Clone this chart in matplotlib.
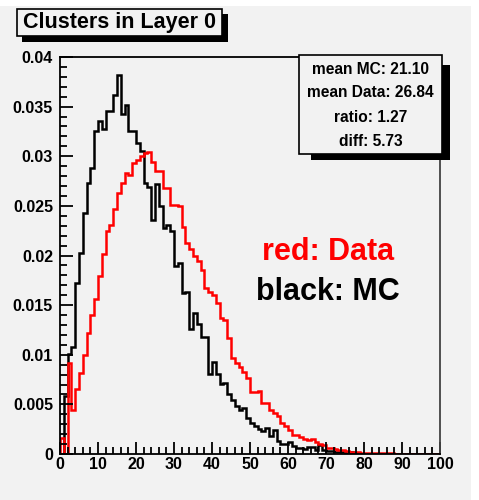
import numpy as np
import matplotlib
matplotlib.use("Agg")
import matplotlib.pyplot as plt
from matplotlib.patches import Rectangle
from matplotlib.ticker import MultipleLocator, FuncFormatter

plt.rcParams['font.family'] = ['Liberation Sans', 'DejaVu Sans']
plt.rcParams['font.weight'] = 'bold'

# bin edges 0..100, one unit per bin
edges = np.arange(0, 101)

mc = [0.0, 0.0058, 0.0101, 0.0108, 0.0172, 0.0203, 0.0243, 0.0273, 0.0288, 0.0325,
      0.0336, 0.0327, 0.0346, 0.0346, 0.0362, 0.0382, 0.0343, 0.0352, 0.0325, 0.0325,
      0.0313, 0.0305, 0.0273, 0.0269, 0.0236, 0.0272, 0.0250, 0.0228, 0.0231, 0.0225,
      0.0189, 0.0192, 0.0162, 0.0163, 0.0126, 0.0142, 0.0131, 0.0118, 0.0118, 0.0081,
      0.0093, 0.0081, 0.0071, 0.0072, 0.0060, 0.0054, 0.0048, 0.0044, 0.0046, 0.0036,
      0.0031, 0.0028, 0.0025, 0.0023, 0.0026, 0.0018, 0.0024, 0.0013, 0.0010, 0.0010,
      0.0012, 0.0008, 0.0006, 0.0006, 0.0005, 0.0007, 0.0007, 0.0004, 0.0009, 0.0004,
      0.0003, 0.0003, 0.0002, 0.0002, 0.0002, 0.0001, 0.0002, 0.0001, 0.0, 0.0,
      0.0, 0.0, 0.0, 0.0, 0.0, 0.0, 0.0, 0.0, 0.0, 0.0,
      0.0, 0.0, 0.0, 0.0, 0.0, 0.0, 0.0, 0.0, 0.0, 0.0]

data = [0.0016, 0.0, 0.0092, 0.0044, 0.0065, 0.0082, 0.0100, 0.0122, 0.0140, 0.0156,
        0.0179, 0.0202, 0.0225, 0.0231, 0.0247, 0.0263, 0.0273, 0.0283, 0.0281, 0.0293,
        0.0296, 0.0300, 0.0303, 0.0304, 0.0294, 0.0285, 0.0285, 0.0268, 0.0268, 0.0251,
        0.0251, 0.0250, 0.0229, 0.0213, 0.0207, 0.0200, 0.0194, 0.0185, 0.0167, 0.0163,
        0.0160, 0.0152, 0.0137, 0.0135, 0.0117, 0.0097, 0.0092, 0.0088, 0.0083, 0.0077,
        0.0062, 0.0062, 0.0063, 0.0051, 0.0051, 0.0044, 0.0041, 0.0038, 0.0031, 0.0028,
        0.0024, 0.0019, 0.0019, 0.0017, 0.0015, 0.0014, 0.0015, 0.0012, 0.0010, 0.0009,
        0.0006, 0.0006, 0.0005, 0.0004, 0.0004, 0.0003, 0.0002, 0.0002, 0.0002, 0.0001,
        0.0001, 0.0001, 0.0001, 0.0001, 0.0001, 0.0001, 0.0001, 0.0001, 0.0, 0.0,
        0.0, 0.0, 0.0, 0.0, 0.0, 0.0, 0.0, 0.0, 0.0, 0.0]

title = "Clusters in Layer 0"
stats = ["mean MC: 21.10", "mean Data: 26.84", "ratio: 1.27", "diff: 5.73"]

W, H = 479, 500
bg = '#f2f2f2'

def fx(px):
    return px / W

def fy(py):
    return 1 - py / H

fig = plt.figure(figsize=(W / 100, H / 100), dpi=100)
fig.patch.set_facecolor(bg)

# white border strips at top and right
fig.add_artist(Rectangle((0, fy(6)), 1, 6 / H, transform=fig.transFigure,
                         facecolor='white', edgecolor='none', zorder=0))
fig.add_artist(Rectangle((fx(471), 0), 8 / W, 1, transform=fig.transFigure,
                         facecolor='white', edgecolor='none', zorder=0))

ax = fig.add_axes([fx(60), fy(454), fx(440) - fx(60), fy(57) - fy(454)])
ax.set_facecolor(bg)

ax.stairs(mc, edges, color='black', lw=1.8)
ax.stairs(data, edges, color='#ff0000', lw=1.8)

ax.set_xlim(0, 100)
ax.set_ylim(0, 0.04)

ax.xaxis.set_major_locator(MultipleLocator(10))
ax.xaxis.set_minor_locator(MultipleLocator(2))
ax.yaxis.set_major_locator(MultipleLocator(0.005))
ax.yaxis.set_minor_locator(MultipleLocator(0.001))
ax.yaxis.set_major_formatter(FuncFormatter(lambda v, p: "0" if v == 0 else ("%g" % round(v, 4))))

ax.tick_params(which='major', direction='in', length=9, width=1.3, labelsize=11.5)
ax.tick_params(which='minor', direction='in', length=5, width=1.3)
ax.tick_params(axis='y', which='major', pad=5)
ax.tick_params(axis='x', which='major', pad=2)
for lab in ax.get_xticklabels() + ax.get_yticklabels():
    lab.set_fontweight('bold')

for s in ax.spines.values():
    s.set_linewidth(1.3)
ax.spines['right'].set_color('#444444')

ax.text(70.5, 0.0195, "red: Data", color='#ff0000', fontsize=22, fontweight='bold',
        ha='center', va='baseline')
ax.text(70.5, 0.0155, "black: MC", color='black', fontsize=22, fontweight='bold',
        ha='center', va='baseline')

# title box with shadow
fig.add_artist(Rectangle((fx(22), fy(42)), fx(228) - fx(22), fy(14) - fy(42),
                         transform=fig.transFigure, facecolor='black', edgecolor='none', zorder=3))
fig.add_artist(Rectangle((fx(17), fy(36)), fx(222) - fx(17), fy(9) - fy(36),
                         transform=fig.transFigure, facecolor=bg, edgecolor='black', lw=1.2, zorder=4))
fig.text(fx(119.5), fy(28), title, fontsize=15.5, fontweight='bold', ha='center',
         va='baseline', zorder=5)

# stats box with shadow
fig.add_artist(Rectangle((fx(311), fy(160)), fx(450) - fx(311), fy(65) - fy(160),
                         transform=fig.transFigure, facecolor='black', edgecolor='none', zorder=3))
fig.add_artist(Rectangle((fx(299), fy(154)), fx(442) - fx(299), fy(55) - fy(154),
                         transform=fig.transFigure, facecolor=bg, edgecolor='black', lw=1.2, zorder=4))
for line, base in zip(stats, [73.5, 97, 122.5, 146]):
    fig.text(fx(370.5), fy(base), line, fontsize=11.2, fontweight='bold', ha='center',
             va='baseline', zorder=5)

fig.savefig("out.png", dpi=100, facecolor=fig.get_facecolor())
